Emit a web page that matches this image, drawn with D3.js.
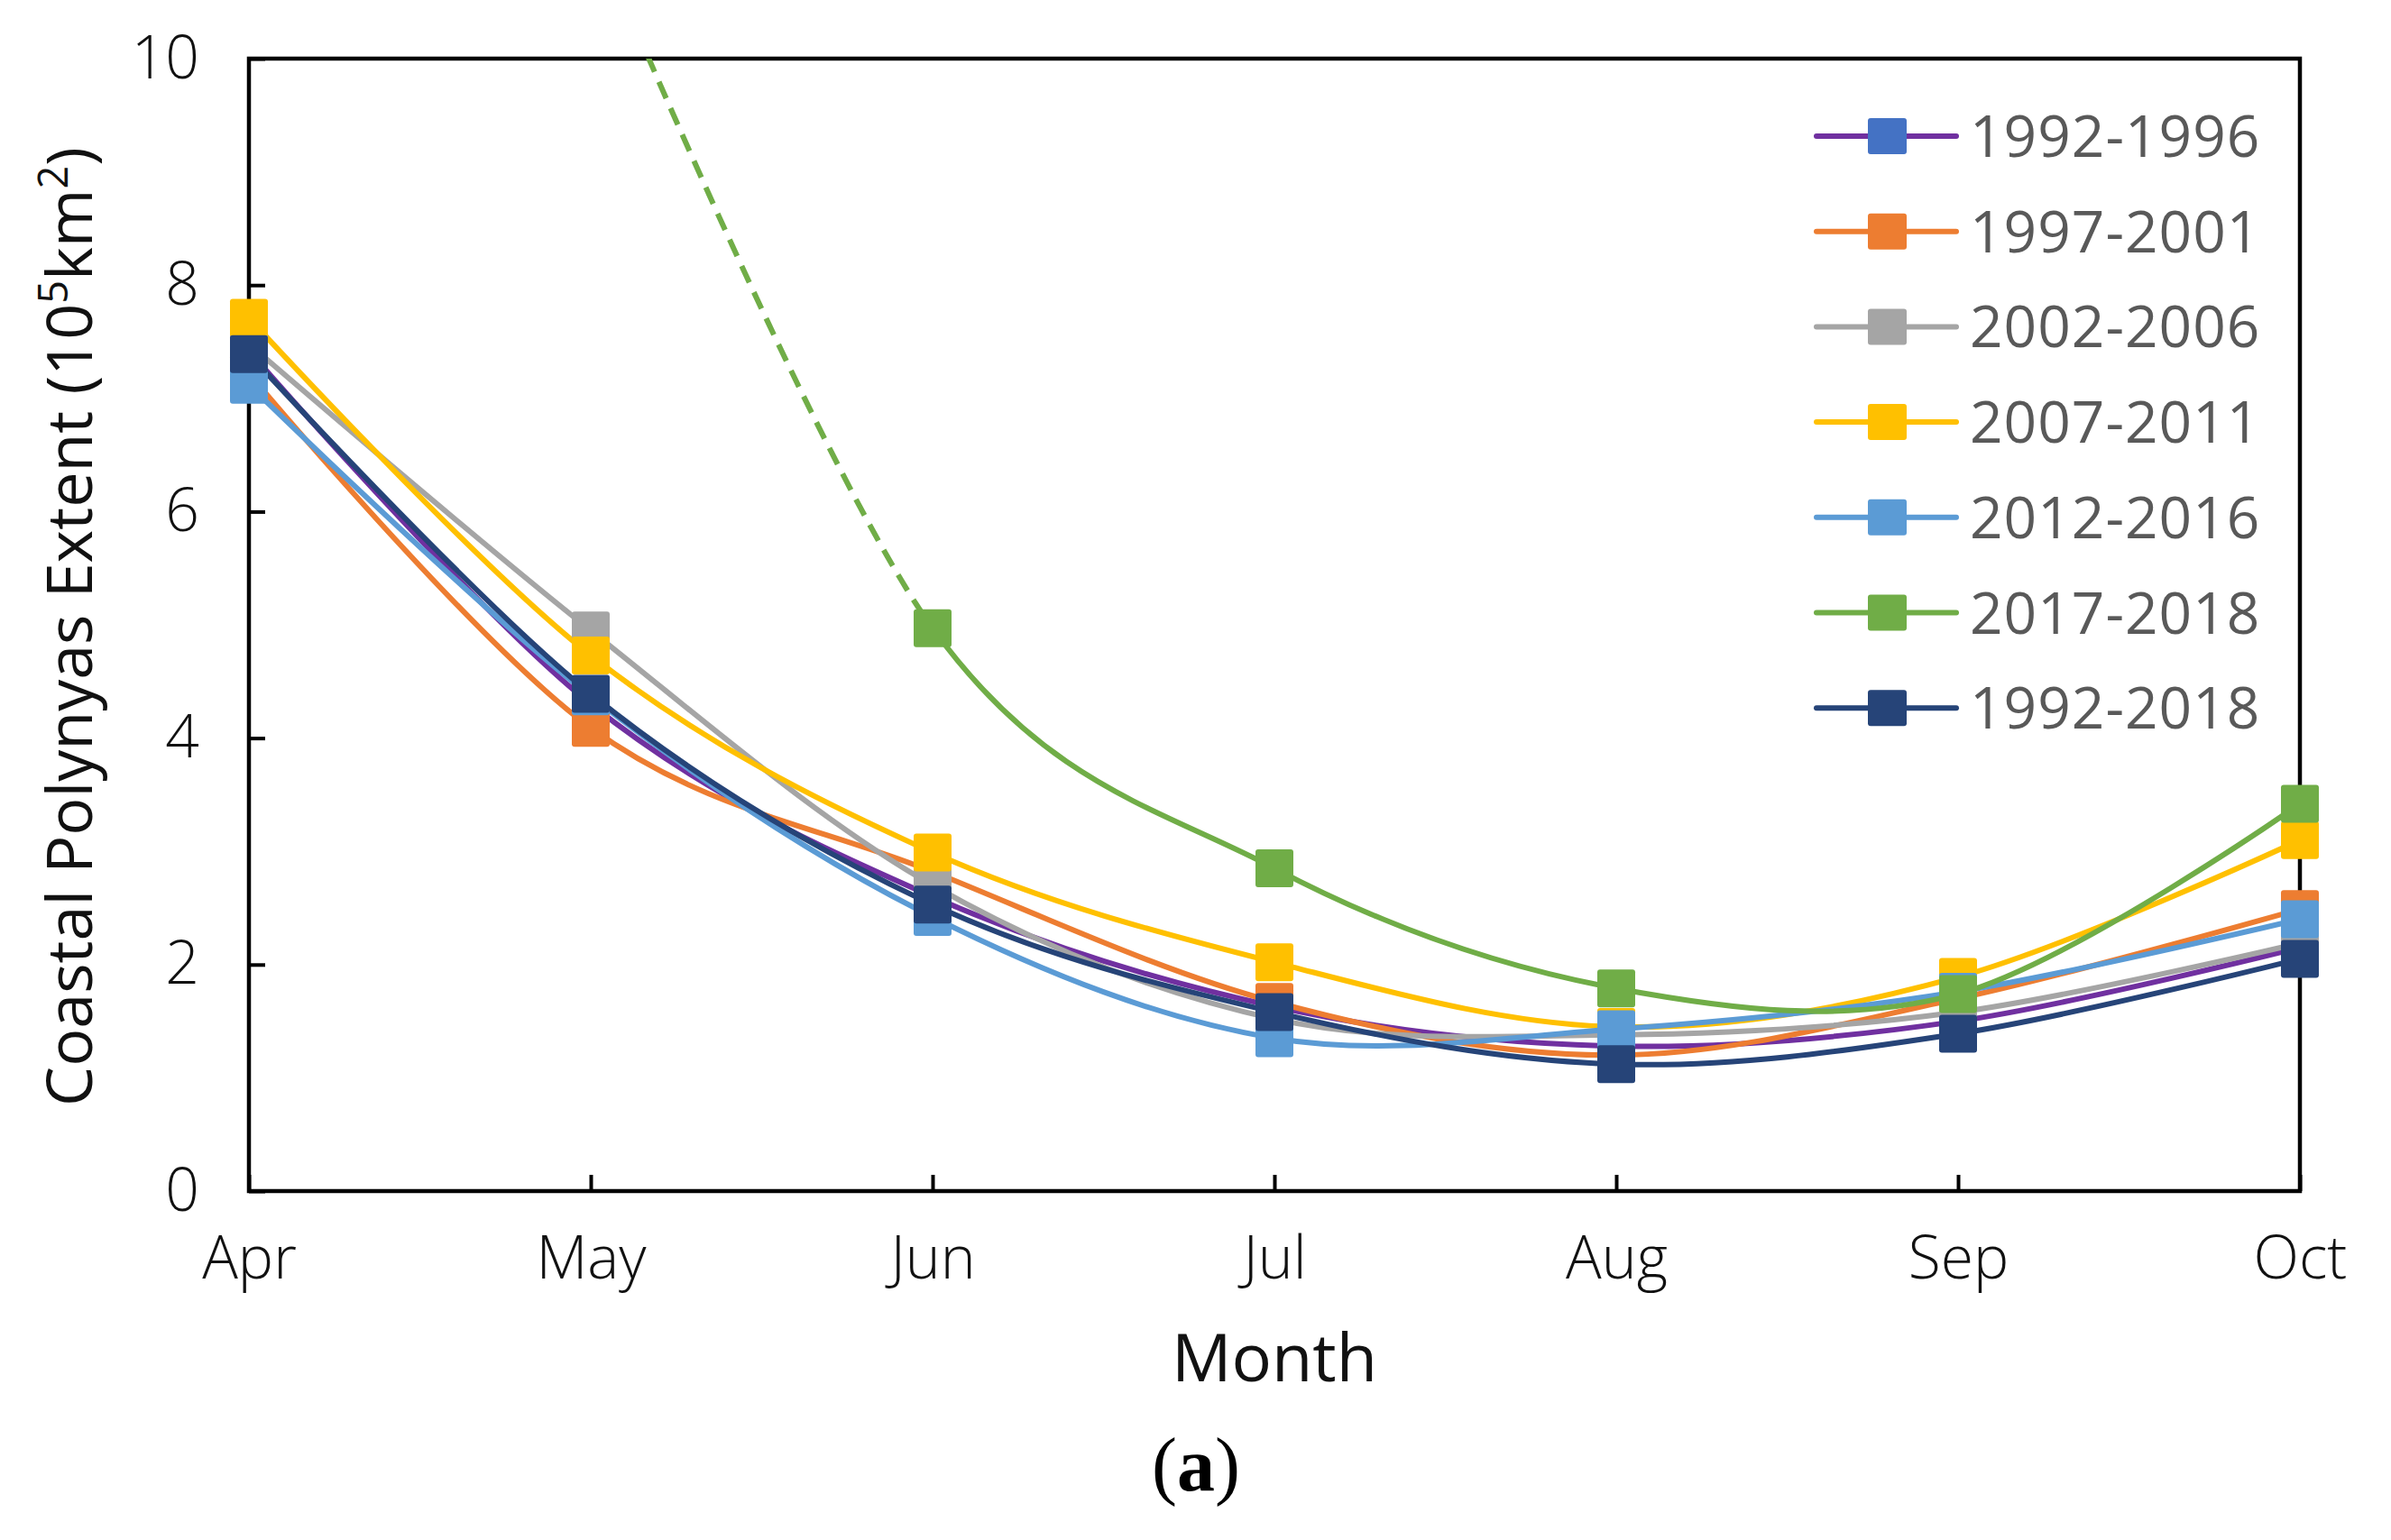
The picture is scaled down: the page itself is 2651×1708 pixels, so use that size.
<!DOCTYPE html>
<html>
<head>
<meta charset="utf-8">
<script src="https://cdn.jsdelivr.net/npm/d3@7"></script>
<style>
  html, body { margin: 0; padding: 0; background: #fff; }
  svg { display: block; }
</style>
</head>
<body>
<svg id="chart" width="2651" height="1708"></svg>
<script>
// ---- data ----
const months = ["Apr", "May", "Jun", "Jul", "Aug", "Sep", "Oct"];
const seriesNames = ["1992-1996", "1997-2001", "2002-2006", "2007-2011", "2012-2016", "2017-2018", "1992-2018"];
const s1992_1996 = [7.42, 4.30, 2.60, 1.63, 1.28, 1.50, 2.15];
const s1997_2001 = [7.22, 4.09, 2.82, 1.67, 1.20, 1.70, 2.49];
const s2002_2006 = [7.48, 4.95, 2.70, 1.52, 1.38, 1.58, 2.19];
const s2007_2011 = [7.71, 4.73, 2.99, 2.02, 1.45, 1.89, 3.10];
const s2012_2016 = [7.12, 4.37, 2.42, 1.35, 1.43, 1.76, 2.40];
const s2017_2018 = [null, 11.2, 4.97, 2.85, 1.79, 1.74, 3.42];
const s1992_2018 = [7.39, 4.39, 2.53, 1.58, 1.12, 1.39, 2.05];
const yTicks = [0, 2, 4, 6, 8, 10];
const lineColors = ["#7030A0", "#ED7D31", "#A5A5A5", "#FFC000", "#5B9BD5", "#70AD47", "#264478"];
const markerColors = ["#4472C4", "#ED7D31", "#A5A5A5", "#FFC000", "#5B9BD5", "#70AD47", "#264478"];

const allSeries = [s1992_1996, s1997_2001, s2002_2006, s2007_2011, s2012_2016, s2017_2018, s1992_2018];
const series = seriesNames.map((n, i) => ({
  name: n, values: allSeries[i], line: lineColors[i], marker: markerColors[i]
}));

// ---- layout ----
const L = 276, R = 2550, T = 65, B = 1321;
const svg = d3.select("#chart");
const x = d3.scalePoint().domain(months).range([L, R]);
const y = d3.scaleLinear().domain([0, 10]).range([B, T]);
const FONT = "'Open Sans', 'Noto Sans', sans-serif";

const defs = svg.append("defs");
defs.append("clipPath").attr("id", "dashClip")
  .append("rect").attr("x", L).attr("y", T).attr("width", x("Jun") - L).attr("height", B - T);
defs.append("clipPath").attr("id", "solidClip")
  .append("rect").attr("x", x("Jun")).attr("y", T - 10).attr("width", R - x("Jun") + 10).attr("height", B - T + 20);

// ---- axes ----
const yAxis = d3.axisLeft(y).tickValues(yTicks).tickSize(-18).tickPadding(55).tickFormat(d3.format("d"));
const gy = svg.append("g").attr("transform", `translate(${L},0)`).call(yAxis);
gy.select(".domain").remove();
gy.selectAll(".tick line").attr("stroke", "#000").attr("stroke-width", 4);
gy.selectAll(".tick text").attr("font-family", FONT).attr("font-size", 66).attr("font-weight", 300).attr("fill", "#111");

const xAxis = d3.axisBottom(x).tickSize(-18).tickPadding(50);
const gx = svg.append("g").attr("transform", `translate(0,${B})`).call(xAxis);
gx.select(".domain").remove();
gx.selectAll(".tick line").attr("stroke", "#000").attr("stroke-width", 4);
gx.selectAll(".tick text").attr("font-family", FONT).attr("font-size", 66).attr("font-weight", 300).attr("fill", "#111");

// frame
svg.append("rect").attr("x", L).attr("y", T).attr("width", R - L).attr("height", B - T)
  .attr("fill", "none").attr("stroke", "#000").attr("stroke-width", 4.5);

// ---- lines ----
const line = d3.line()
  .defined(d => d.v !== null)
  .x(d => x(d.m)).y(d => y(d.v))
  .curve(d3.curveCardinal.tension(0));

const lineG = svg.append("g");
series.forEach(s => {
  const pts = months.map((m, i) => ({ m, v: s.values[i] }));
  if (s.name === "2017-2018") {
    lineG.append("path").attr("d", line(pts)).attr("fill", "none")
      .attr("stroke", s.line).attr("stroke-width", 6)
      .attr("stroke-dasharray", "20,12").attr("clip-path", "url(#dashClip)");
    lineG.append("path").attr("d", line(pts)).attr("fill", "none")
      .attr("stroke", s.line).attr("stroke-width", 6)
      .attr("clip-path", "url(#solidClip)");
  } else {
    lineG.append("path").attr("d", line(pts)).attr("fill", "none")
      .attr("stroke", s.line).attr("stroke-width", 6)
      .attr("stroke-linejoin", "round");
  }
});

// ---- markers ----
const MS = 42;
const markG = svg.append("g");
series.forEach(s => {
  const pts = months.map((m, i) => ({ m, v: s.values[i] })).filter(d => d.v !== null && d.v <= 10);
  markG.selectAll(null).data(pts).enter().append("rect")
    .attr("x", d => x(d.m) - MS / 2).attr("y", d => y(d.v) - MS / 2)
    .attr("width", MS).attr("height", MS).attr("rx", 3)
    .attr("fill", s.marker);
});

// ---- legend ----
const legG = svg.append("g");
series.forEach((s, i) => {
  const cy = 151 + i * 105.7;
  legG.append("line").attr("x1", 2014).attr("x2", 2169).attr("y1", cy).attr("y2", cy)
    .attr("stroke", s.line).attr("stroke-width", 6).attr("stroke-linecap", "round");
  legG.append("rect").attr("x", 2092 - MS / 2).attr("y", cy - 20).attr("width", MS + 1).attr("height", 40)
    .attr("rx", 3).attr("fill", s.marker);
  legG.append("text").attr("x", 2184).attr("y", cy + 23)
    .attr("font-family", FONT).attr("font-size", 64).attr("fill", "#595959")
    .attr("letter-spacing", 1)
    .text(s.name);
});

// ---- titles ----
const yt = svg.append("text")
  .attr("transform", `translate(102,${(T + B) / 2 + 2}) rotate(-90)`)
  .attr("text-anchor", "middle")
  .attr("font-family", FONT).attr("font-size", 70).attr("fill", "#111");
yt.append("tspan").text("Coastal Polynyas Extent (10");
yt.append("tspan").attr("dy", -27).attr("font-size", 45).text("5");
yt.append("tspan").attr("dy", 27).text("km");
yt.append("tspan").attr("dy", -27).attr("font-size", 45).text("2");
yt.append("tspan").attr("dy", 27).text(")");

svg.append("text").attr("x", (L + R) / 2).attr("y", 1532)
  .attr("text-anchor", "middle").attr("font-family", FONT).attr("font-size", 74).attr("fill", "#111")
  .text("Month");

const cap = svg.append("text").attr("x", 1326).attr("y", 1653)
  .attr("text-anchor", "middle").attr("font-family", "'Liberation Serif', 'DejaVu Serif', serif")
  .attr("font-size", 84).attr("fill", "#000");
cap.append("tspan").text("(");
cap.append("tspan").attr("font-weight", "bold").text("a");
cap.append("tspan").text(")");
</script>
</body>
</html>
